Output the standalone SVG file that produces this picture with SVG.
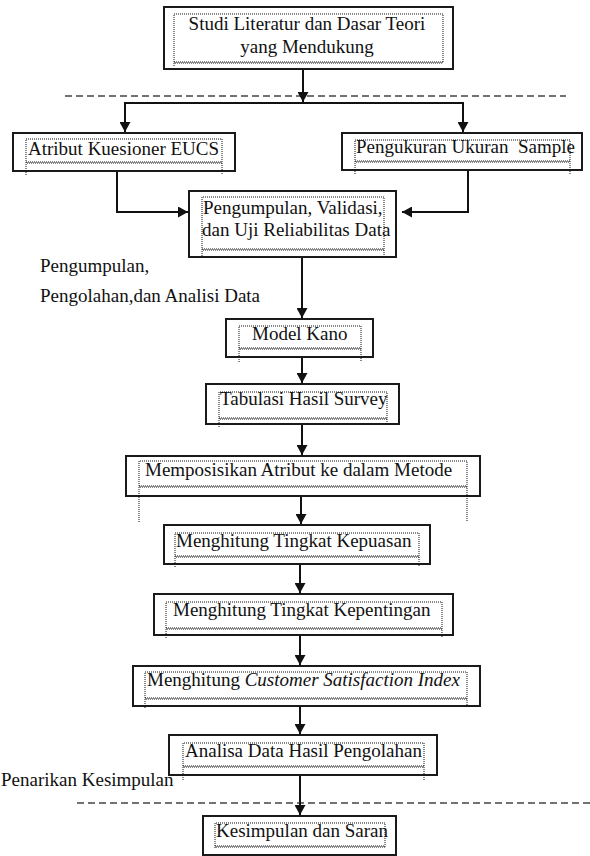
<svg xmlns="http://www.w3.org/2000/svg" width="590" height="856" viewBox="0 0 590 856">
<style>
.box{fill:#fff;stroke:#1a1a1a;stroke-width:2}
.dot{fill:none;stroke:#111;stroke-width:1;stroke-dasharray:1 1}
.wave{fill:none;stroke:#111;stroke-width:1;stroke-dasharray:1 1}
.wave2{fill:none;stroke:#111;stroke-width:1;stroke-dasharray:1 1;stroke-dashoffset:1}
.conn{fill:none;stroke:#111;stroke-width:2}
.arr{marker-end:url(#ah)}
.dash{fill:none;stroke:#444;stroke-width:1.6;stroke-dasharray:7 4}
.t{font-family:"Liberation Serif","Times New Roman",serif;font-size:19px;fill:#111}
.i{font-style:italic}
</style>
<defs>
<marker id="ah" viewBox="0 0 10 11" refX="10" refY="5.5" markerWidth="10" markerHeight="11" markerUnits="userSpaceOnUse" orient="auto">
<path d="M0,0 L10,5.5 L0,11 z" fill="#111"/>
</marker>
</defs>
<rect width="590" height="856" fill="#fff"/>

<g id="dashed-lines">
<line class="dash" x1="65" y1="96" x2="566" y2="96"/>
<line class="dash" x1="77" y1="803" x2="590" y2="803"/>
</g>

<g id="connectors">
<path class="conn arr" d="M303,69 V102"/>
<path class="conn arr" d="M303,103 H125 V132"/>
<path class="conn arr" d="M303,103 H463 V132"/>
<path class="conn arr" d="M117,171 V212 H188"/>
<path class="conn arr" d="M468,170 V212 H402"/>
<path class="conn arr" d="M302,257 V318"/>
<path class="conn arr" d="M302,357 V383"/>
<path class="conn arr" d="M302,424 V455"/>
<path class="conn arr" d="M301,496 V524"/>
<path class="conn arr" d="M300,564 V593"/>
<path class="conn arr" d="M300,635 V665"/>
<path class="conn arr" d="M300,706 V734"/>
<path class="conn arr" d="M300,775 V815"/>
</g>

<g id="n-studi">
<rect class="box" x="164" y="7" width="289" height="62"/>
<path class="dot" d="M174,66 V14 H443 V63"/>
<line class="wave" x1="174" y1="62" x2="443" y2="62"/><line class="wave2" x1="174" y1="63" x2="443" y2="63"/>
<text class="t" x="307" y="30" text-anchor="middle">Studi Literatur dan Dasar Teori</text>
<text class="t" x="307" y="53" text-anchor="middle">yang Mendukung</text>
</g>

<g id="n-atribut">
<rect class="box" x="13" y="133" width="222" height="38"/>
<path class="dot" d="M26,175 V139 H222 V175"/>
<line class="wave" x1="26" y1="162" x2="222" y2="162"/><line class="wave2" x1="26" y1="163" x2="222" y2="163"/>
<text class="t" x="28" y="155">Atribut Kuesioner EUCS</text>
</g>

<g id="n-sample">
<rect class="box" x="342" y="133" width="240" height="37"/>
<path class="dot" d="M355,174 V140 H570 V174"/>
<line class="wave" x1="355" y1="161" x2="570" y2="161"/><line class="wave2" x1="355" y1="162" x2="570" y2="162"/>
<text class="t" x="356" y="153" xml:space="preserve">Pengukuran Ukuran  Sample</text>
</g>

<g id="n-pengumpulan">
<rect class="box" x="189" y="191" width="207" height="66"/>
<path class="dot" d="M202,258 V197 H384 V258"/>
<line class="wave" x1="202" y1="249" x2="384" y2="249"/><line class="wave2" x1="202" y1="250" x2="384" y2="250"/>
<text class="t" x="203" y="214">Pengumpulan, Validasi,</text>
<text class="t" x="202" y="236">dan Uji Reliabilitas Data</text>
</g>

<g id="label-pengolahan">
<text class="t" x="40" y="272">Pengumpulan,</text>
<text class="t" x="40" y="302">Pengolahan,dan Analisi Data</text>
</g>

<g id="n-kano">
<rect class="box" x="226" y="319" width="147" height="38"/>
<path class="dot" d="M239,362 V326 H361 V362"/>
<line class="wave" x1="239" y1="348" x2="361" y2="348"/><line class="wave2" x1="239" y1="349" x2="361" y2="349"/>
<text class="t" x="252" y="340">Model Kano</text>
</g>

<g id="n-tabulasi">
<rect class="box" x="206" y="384" width="193" height="40"/>
<path class="dot" d="M219,427 V392 H387 V425"/>
<line class="wave" x1="219" y1="418" x2="387" y2="418"/><line class="wave2" x1="219" y1="419" x2="387" y2="419"/>
<text class="t" x="220" y="405">Tabulasi Hasil Survey</text>
</g>

<g id="n-memposisikan">
<rect class="box" x="126" y="456" width="354" height="40"/>
<path class="dot" d="M139,522 V461 H467 V522"/>
<line class="wave" x1="139" y1="486" x2="467" y2="486"/><line class="wave2" x1="139" y1="487" x2="467" y2="487"/>
<text class="t" x="145" y="476">Memposisikan Atribut ke dalam Metode</text>
</g>

<g id="n-kepuasan">
<rect class="box" x="164" y="525" width="266" height="39"/>
<path class="dot" d="M175,567 V533 H419 V567"/>
<line class="wave" x1="175" y1="556" x2="419" y2="556"/><line class="wave2" x1="175" y1="557" x2="419" y2="557"/>
<text class="t" x="176" y="547">Menghitung Tingkat Kepuasan</text>
</g>

<g id="n-kepentingan">
<rect class="box" x="154" y="594" width="299" height="41"/>
<path class="dot" d="M166,638 V602 H442 V638"/>
<line class="wave" x1="166" y1="628" x2="442" y2="628"/><line class="wave2" x1="166" y1="629" x2="442" y2="629"/>
<text class="t" x="173" y="616">Menghitung Tingkat Kepentingan</text>
</g>

<g id="n-csi">
<rect class="box" x="133" y="666" width="347" height="40"/>
<path class="dot" d="M145,708 V672 H467 V708"/>
<line class="wave" x1="145" y1="698" x2="467" y2="698"/><line class="wave2" x1="145" y1="699" x2="467" y2="699"/>
<text class="t" x="147" y="686">Menghitung <tspan class="i">Customer Satisfaction Index</tspan></text>
</g>

<g id="n-analisa">
<rect class="box" x="169" y="735" width="268" height="40"/>
<path class="dot" d="M183,780 V743 H424 V780"/>
<line class="wave" x1="183" y1="766" x2="424" y2="766"/><line class="wave2" x1="183" y1="767" x2="424" y2="767"/>
<text class="t" x="185" y="757">Analisa Data Hasil Pengolahan</text>
</g>

<g id="label-penarikan">
<text class="t" x="1" y="786">Penarikan Kesimpulan</text>
</g>

<g id="n-kesimpulan">
<rect class="box" x="203" y="816" width="193" height="39"/>
<path class="dot" d="M215,848 V823 H385 V848"/>
<line class="wave" x1="215" y1="846" x2="385" y2="846"/><line class="wave2" x1="215" y1="847" x2="385" y2="847"/>
<text class="t" x="216" y="837">Kesimpulan dan Saran</text>
</g>
</svg>
